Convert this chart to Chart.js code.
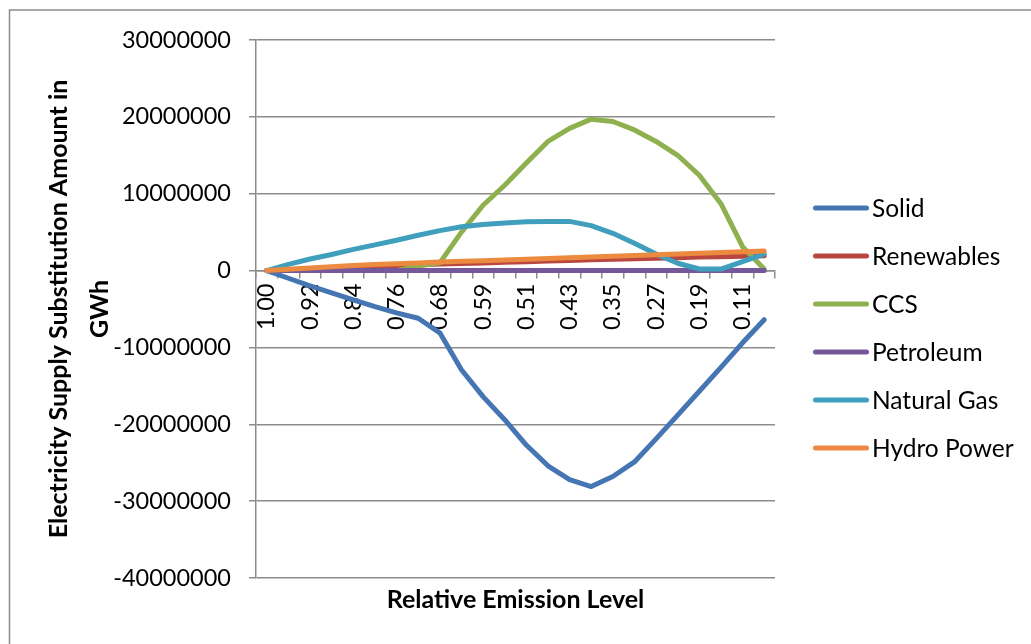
<!DOCTYPE html>
<html>
<head>
<meta charset="utf-8">
<script src="https://cdn.jsdelivr.net/npm/chart.js@4"></script>
<style>
  html, body { margin: 0; padding: 0; background: #ffffff; }
  canvas { display: block; }
</style>
</head>
<body>
<canvas id="chart" width="1031" height="644"></canvas>
<script>
// Relative emission levels (category axis, from 1.00 downwards)
const emissionLevels = ['1.00', '0.96', '0.92', '0.88', '0.84', '0.80', '0.76', '0.72',
  '0.68', '0.63', '0.59', '0.55', '0.51', '0.47', '0.43', '0.39',
  '0.35', '0.31', '0.27', '0.23', '0.19', '0.15', '0.11', '0.07'];

// Electricity supply substitution amounts, GWh
const solid = [0, -1000000, -2000000, -2900000, -3800000, -4700000, -5500000, -6200000,
  -8100000, -12900000, -16400000, -19400000, -22700000, -25400000, -27200000, -28100000,
  -26800000, -24900000, -21900000, -18800000, -15700000, -12600000, -9400000, -6400000];
const renewables = [0, 120000, 240000, 350000, 460000, 560000, 660000, 750000,
  840000, 920000, 1000000, 1080000, 1160000, 1240000, 1320000, 1400000,
  1470000, 1540000, 1610000, 1680000, 1750000, 1810000, 1870000, 1930000];
const ccs = [0, 0, 0, 0, 0, 0, 0, 600000,
  1000000, 5000000, 8500000, 11100000, 14000000, 16800000, 18500000, 19700000,
  19400000, 18300000, 16800000, 15000000, 12400000, 8700000, 3100000, 200000];
const petroleum = [0, 0, 0, 0, 0, 0, 0, 0,
  0, 0, 0, 0, 0, 0, 0, 0,
  0, 0, 0, 0, 0, 0, 0, 0];
const naturalGas = [0, 800000, 1500000, 2100000, 2750000, 3350000, 3950000, 4600000,
  5200000, 5700000, 6000000, 6200000, 6350000, 6400000, 6400000, 5850000,
  4850000, 3550000, 2150000, 950000, 200000, 200000, 1150000, 2150000];
const hydroPower = [0, 170000, 340000, 500000, 660000, 780000, 890000, 1000000,
  1100000, 1200000, 1290000, 1390000, 1480000, 1580000, 1670000, 1770000,
  1870000, 1960000, 2060000, 2160000, 2260000, 2360000, 2450000, 2550000];

const seriesNames = ['Solid', 'Renewables', 'CCS', 'Petroleum', 'Natural Gas', 'Hydro Power'];
const seriesValues = [solid, renewables, ccs, petroleum, naturalGas, hydroPower];

// Value axis range and step
const yMin = -40000000;
const yMax = 30000000;
const yStep = 10000000;

// Styling
const seriesColors = ['#4575B3', '#B9473F', '#8FB04F', '#74589A', '#409FBD', '#EC8A3F'];
const GRID = '#8c8c8c';
const FONT = 'Lato';

// White background and the outer frame lines
const framePlugin = {
  id: 'frame',
  beforeDraw(chart) {
    const ctx = chart.ctx;
    ctx.save();
    ctx.fillStyle = '#ffffff';
    ctx.fillRect(0, 0, chart.width, chart.height);
    ctx.strokeStyle = GRID;
    ctx.lineWidth = 1.5;
    ctx.beginPath();
    ctx.moveTo(9.5, chart.height);
    ctx.lineTo(9.5, 10);
    ctx.lineTo(chart.width, 10);
    ctx.stroke();
    ctx.restore();
  }
};

// Legend on the right: a line sample followed by the series name
const sideLegend = {
  id: 'sideLegend',
  afterDraw(chart) {
    const { ctx, chartArea } = chart;
    ctx.save();
    chart.data.datasets.forEach((ds, i) => {
      const y = chartArea.top + 168 + 48 * i;
      ctx.strokeStyle = ds.borderColor;
      ctx.lineWidth = 5;
      ctx.lineCap = 'round';
      ctx.beginPath();
      ctx.moveTo(chartArea.right + 40.5, y);
      ctx.lineTo(chartArea.right + 91.5, y);
      ctx.stroke();
      ctx.fillStyle = '#000000';
      ctx.font = '24.5px ' + FONT;
      ctx.textAlign = 'left';
      ctx.textBaseline = 'middle';
      ctx.fillText(ds.label, chartArea.right + 97, y + 1);
    });
    ctx.restore();
  }
};

new Chart(document.getElementById('chart'), {
  type: 'line',
  data: {
    labels: emissionLevels,
    datasets: seriesNames.map((name, i) => ({
      label: name,
      data: seriesValues[i],
      borderColor: seriesColors[i],
      backgroundColor: seriesColors[i],
      borderWidth: 5,
      pointRadius: 0,
      pointHoverRadius: 0,
      tension: 0,
      fill: false,
      borderCapStyle: 'round',
      borderJoinStyle: 'round',
      order: seriesNames.length - 1 - i
    }))
  },
  options: {
    responsive: false,
    animation: false,
    devicePixelRatio: 1,
    layout: { padding: { top: 40, right: 256, bottom: 0, left: 0 } },
    plugins: {
      legend: { display: false },
      tooltip: { enabled: false }
    },
    scales: {
      x: {
        type: 'category',
        position: 'bottom',
        offset: true,
        grid: { display: false, drawTicks: false },
        border: { display: false },
        ticks: { display: false },
        title: {
          display: true,
          text: 'Relative Emission Level',
          color: '#000000',
          font: { family: FONT, size: 25, weight: 'bold', lineHeight: 1.2 },
          padding: { top: 0, bottom: 29 }
        },
        afterFit(scale) { scale.height = 66; }
      },
      x2: {
        type: 'category',
        position: { y: 0 },
        offset: true,
        grid: { drawOnChartArea: false, drawTicks: true, tickLength: 7, offset: true, color: GRID, lineWidth: 1.5 },
        border: { display: true, color: GRID, width: 1.5 },
        ticks: {
          autoSkip: false,
          minRotation: 90,
          maxRotation: 90,
          padding: 6,
          color: '#000000',
          font: { family: FONT, size: 23.5 },
          callback(value, index) { return index % 2 === 0 ? this.getLabelForValue(value) : ''; }
        }
      },
      y: {
        type: 'linear',
        position: 'left',
        min: yMin,
        max: yMax,
        grid: { color: GRID, lineWidth: 1.5, tickLength: 7 },
        border: { color: GRID, width: 1.5 },
        ticks: {
          stepSize: yStep,
          padding: 18,
          color: '#000000',
          font: { family: FONT, size: 23.5 },
          callback: (v) => String(v)
        },
        title: {
          display: true,
          text: ['Electricity Supply Substitution Amount in', 'GWh'],
          color: '#000000',
          font: { family: FONT, size: 25, weight: 'bold', lineHeight: 1.64 },
          padding: { top: 38, bottom: 0 }
        },
        afterFit(scale) { scale.width = 256; }
      }
    }
  },
  plugins: [framePlugin, sideLegend]
});
</script>
</body>
</html>
